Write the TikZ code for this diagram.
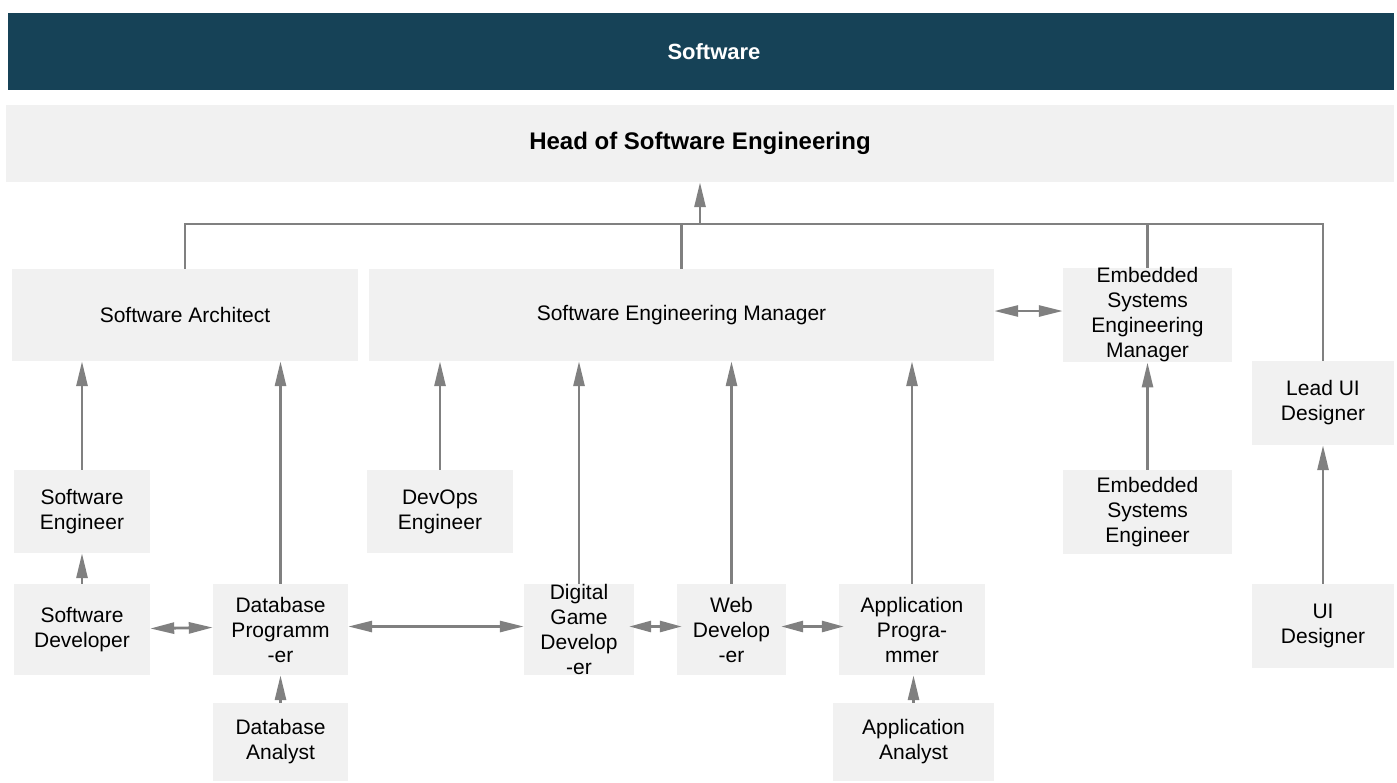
\documentclass[tikz,border=0pt]{standalone}
\usepackage{fontspec}
\setmainfont{Liberation Sans}
\usetikzlibrary{arrows.meta}
\definecolor{titlebg}{HTML}{164257}
\definecolor{boxbg}{HTML}{F1F1F1}
\definecolor{linegray}{HTML}{808080}
\tikzset{
  box/.style={fill=boxbg, draw=none, inner sep=0pt, align=center, text=black,
    font=\fontsize{21}{25}\selectfont},
  conn/.style={draw=linegray, line width=2.8pt},
  arr/.style={conn, -{Triangle[length=25pt,width=11pt]}},
  darr/.style={conn, {Triangle[length=24pt,width=11pt]}-{Triangle[length=24pt,width=11pt]}},
  sdarr/.style={conn, {Triangle[length=22pt,width=11pt]}-{Triangle[length=22pt,width=11pt]},
    shorten <=-5pt, shorten >=-5pt},
}
\newcommand{\bx}[6]{\node[box, minimum width={(#4-#2)*1pt}, minimum height={(#5-#3)*1pt}] (#1) at ({(#2+#4)/2},{(#3+#5)/2}) {#6};}
\begin{document}
\begin{tikzpicture}[x=1pt,y=-1pt]
\useasboundingbox (0,0) rectangle (1397,782);
\node[fill=titlebg, inner sep=0pt, minimum width=1386pt, minimum height=77pt] (title) at (701,51.5) {};
\node[text=white, inner sep=0pt, font=\bfseries\fontsize{22}{26}\selectfont] (titletext) at (714,51.5) {Software};
\node[box, minimum width=1388pt, minimum height=77pt, font=\bfseries\fontsize{24}{28}\selectfont] (head) at (700,143.5) {Head of Software Engineering};
\bx{sa}{12}{269}{358}{361}{Software Architect}
\bx{sem}{369}{269}{994}{361}{Software Engineering Manager}
\bx{esem}{1063}{269}{1232}{361}{Embedded\\Systems\\Engineering\\Manager}
\bx{lead}{1252}{361}{1394}{445}{Lead UI\\Designer}
\bx{se}{14}{470}{150}{553}{Software\\Engineer}
\bx{devops}{367}{470}{513}{553}{DevOps\\Engineer}
\bx{ese}{1063}{470}{1232}{554}{Embedded\\Systems\\Engineer}
\bx{sd}{14}{584}{150}{675}{Software\\Developer}
\bx{dbp}{213}{584}{348}{675}{Database\\Programm\\-er}
\bx{dgd}{524}{584}{634}{675}{Digital\\Game\\Develop\\-er}
\bx{web}{677}{584}{786}{675}{Web\\Develop\\-er}
\bx{app}{839}{584}{985}{675}{Application\\Progra-\\mmer}
\bx{ui}{1252}{584}{1394}{668}{UI\\Designer}
\bx{dba}{213}{703}{348}{781}{Database\\Analyst}
\bx{aa}{833}{703}{994}{781}{Application\\Analyst}
% top tree
\coordinate (j) at (700,224);
\draw[conn] (sa.north) |- (j);
\draw[conn] (sem.north) |- (j);
\draw[conn] (esem.north) |- (j);
\draw[conn] (lead.north) |- (j);
\draw[arr] (j) -- (j |- head.south);
% vertical reports
\draw[arr] (se.north) -- (se.north |- sa.south);
\draw[arr] (dbp.north) -- (dbp.north |- sa.south);
\draw[arr] (devops.north) -- (devops.north |- sem.south);
\draw[arr] (dgd.north) -- (dgd.north |- sem.south);
\draw[arr] (web.north) -- (web.north |- sem.south);
\draw[arr] (app.north) -- (app.north |- sem.south);
\draw[arr] (ese.north) -- (esem.south);
\draw[arr] (ui.north) -- (lead.south);
\draw[arr] (sd.north) -- (se.south);
\draw[arr] (dba.north) -- (dbp.south);
\draw[arr] (aa.north) -- (aa.north |- app.south);
% lateral links
\draw[darr] ([yshift=4pt]sem.east) -- ([yshift=4pt]esem.west);
\draw[darr] ([yshift=1pt]sd.east) -- ([yshift=2pt]dbp.west);
\draw[darr] ([yshift=3pt]dbp.east) -- ([yshift=3pt]dgd.west);
\draw[sdarr] ([yshift=3pt]dgd.east) -- ([yshift=3pt]web.west);
\draw[sdarr] ([yshift=3pt]web.east) -- ([yshift=3pt]app.west);
\end{tikzpicture}
\end{document}
